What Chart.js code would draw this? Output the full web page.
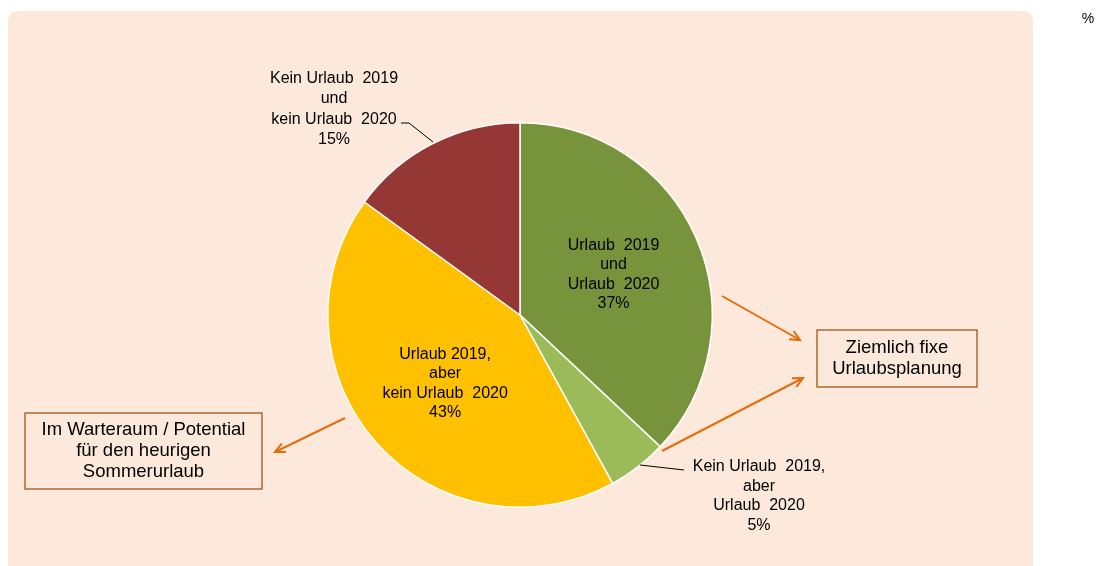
<!DOCTYPE html>
<html>
<head>
<meta charset="utf-8">
<script src="https://cdn.jsdelivr.net/npm/chart.js@4/dist/chart.umd.min.js"></script>
<style>
  html, body { margin: 0; padding: 0; background: #fff; }
  #wrap { width: 1099px; height: 566px; position: relative; }
</style>
</head>
<body>
<div id="wrap"><canvas id="urlaubChart" width="1099" height="566"></canvas></div>
<script>
const categories = [
    ['Urlaub  2019', 'und', 'Urlaub  2020'],
    ['Kein Urlaub  2019,', 'aber', 'Urlaub  2020'],
    ['Urlaub 2019,', 'aber', 'kein Urlaub  2020'],
    ['Kein Urlaub  2019', 'und', 'kein Urlaub  2020']
];
const shares = [37, 5, 43, 15];
const shareLabels = ['37%', '5%', '43%', '15%'];
const sliceColors = ['#77933C', '#9BBB59', '#FFC000', '#953735'];

const FONT = '"Liberation Sans", Arial, sans-serif';

function roundRect(ctx, x, y, w, h, r) {
    ctx.beginPath();
    ctx.moveTo(x + r, y);
    ctx.lineTo(x + w - r, y);
    ctx.quadraticCurveTo(x + w, y, x + w, y + r);
    ctx.lineTo(x + w, y + h);
    ctx.lineTo(x, y + h);
    ctx.lineTo(x, y + r);
    ctx.quadraticCurveTo(x, y, x + r, y);
    ctx.closePath();
}

function arrow(ctx, x1, y1, x2, y2) {
    ctx.save();
    ctx.strokeStyle = '#E46C0A';
    ctx.lineWidth = 2;
    ctx.beginPath();
    ctx.moveTo(x1, y1);
    ctx.lineTo(x2, y2);
    ctx.stroke();
    const a = Math.atan2(y2 - y1, x2 - x1);
    ctx.beginPath();
    ctx.moveTo(x2 - 11 * Math.cos(a - 0.45), y2 - 11 * Math.sin(a - 0.45));
    ctx.lineTo(x2, y2);
    ctx.lineTo(x2 - 11 * Math.cos(a + 0.45), y2 - 11 * Math.sin(a + 0.45));
    ctx.stroke();
    ctx.restore();
}

function textBox(ctx, x, y, w, h, lines) {
    ctx.save();
    ctx.strokeStyle = '#984807';
    ctx.lineWidth = 1.2;
    ctx.strokeRect(x, y, w, h);
    ctx.fillStyle = '#000';
    ctx.font = '18.5px ' + FONT;
    ctx.textAlign = 'center';
    ctx.textBaseline = 'middle';
    const lh = 21;
    const y0 = y + h / 2 - (lines.length - 1) * lh / 2;
    lines.forEach((l, i) => ctx.fillText(l, x + w / 2, y0 + i * lh));
    ctx.restore();
}

function multiline(ctx, lines, cx, cy, lh) {
    const y0 = cy - (lines.length - 1) * lh / 2;
    lines.forEach((l, i) => ctx.fillText(l, cx, y0 + i * lh));
}

const backgroundPanel = {
    id: 'backgroundPanel',
    beforeDraw(chart) {
        const ctx = chart.ctx;
        ctx.save();
        ctx.fillStyle = '#FDE9DB';
        roundRect(ctx, 8, 11, 1025, 560, 11);
        ctx.fill();
        ctx.fillStyle = '#000';
        ctx.font = '14px ' + FONT;
        ctx.textAlign = 'center';
        ctx.textBaseline = 'middle';
        ctx.fillText('%', 1088, 19);
        ctx.restore();
    }
};

const sliceText = {
    id: 'sliceText',
    afterDraw(chart) {
        const ctx = chart.ctx;
        const arcs = chart.getDatasetMeta(0).data;
        ctx.save();
        ctx.fillStyle = '#000';
        ctx.font = '16px ' + FONT;
        ctx.textAlign = 'center';
        ctx.textBaseline = 'middle';

        // inside labels for the two big slices
        [0, 2].forEach(i => {
            const a = arcs[i];
            const mid = (a.startAngle + a.endAngle) / 2;
            const r = a.outerRadius * (i === 0 ? 0.53 : 0.54);
            const cx = a.x + r * Math.cos(mid);
            const cy = a.y + r * Math.sin(mid);
            multiline(ctx, categories[i].concat(shareLabels[i]), cx + (i === 2 ? 3 : 0), cy, 19.5);
        });

        // outside labels with leader lines
        ctx.strokeStyle = '#000';
        ctx.lineWidth = 1;
        ctx.beginPath();
        ctx.moveTo(640, 465);
        ctx.lineTo(684, 470);
        ctx.stroke();
        multiline(ctx, categories[1].concat(shareLabels[1]), 759, 496, 19.7);

        ctx.beginPath();
        ctx.moveTo(433, 142);
        ctx.lineTo(409, 123);
        ctx.lineTo(401, 123);
        ctx.stroke();
        multiline(ctx, categories[3].concat(shareLabels[3]), 334, 109, 20.5);

        // annotation boxes and arrows
        textBox(ctx, 817, 330, 160, 57, ['Ziemlich fixe', 'Urlaubsplanung']);
        textBox(ctx, 25, 413, 237, 76, ['Im Warteraum / Potential', 'für den heurigen', 'Sommerurlaub']);
        arrow(ctx, 722, 296, 800, 340);
        arrow(ctx, 662, 451, 803, 378);
        arrow(ctx, 345, 418, 275, 452);
        ctx.restore();
    }
};

const ctx = document.getElementById('urlaubChart').getContext('2d');
const urlaubChart = new Chart(ctx, {
    type: 'pie',
    data: {
        labels: categories.map(c => c.join(' ')),
        datasets: [{
            data: shares,
            backgroundColor: sliceColors,
            borderColor: '#ffffff',
            borderWidth: 1.5
        }]
    },
    options: {
        responsive: false,
        animation: false,
        layout: {
            padding: { top: 122, bottom: 58, left: 327, right: 386 }
        },
        plugins: {
            legend: { display: false },
            tooltip: { enabled: false }
        }
    },
    plugins: [backgroundPanel, sliceText]
});
</script>
</body>
</html>
